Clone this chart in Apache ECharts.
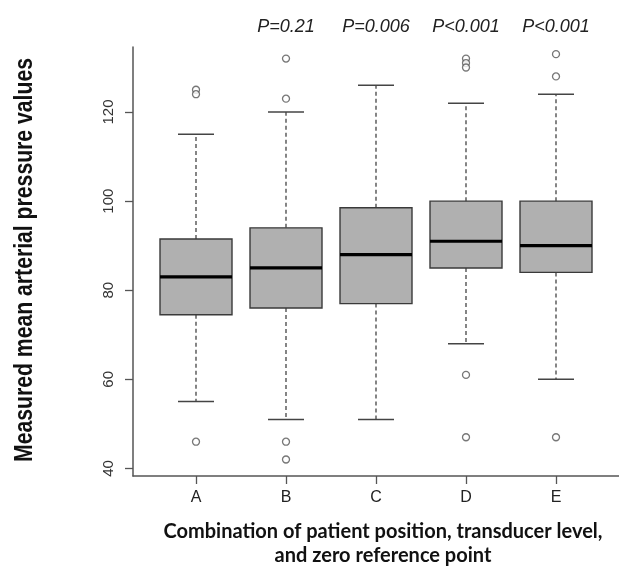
<!DOCTYPE html>
<html><head><meta charset="utf-8">
<script src="https://cdn.jsdelivr.net/npm/echarts@6/dist/echarts.min.js"></script>
<style>html,body{margin:0;padding:0;background:#fff}#c{width:619px;height:575px}</style>
</head><body><div id="c"></div>
<script>
var categories = ['A', 'B', 'C', 'D', 'E'];
var lowerWhisker = [55, 51, 51, 68, 60];
var q1 = [74.5, 76, 77, 85, 84];
var median = [83, 85, 88, 91, 90];
var q3 = [91.5, 94, 98.5, 100, 100];
var upperWhisker = [115, 120, 126, 122, 124];
var outliers = [[125, 124, 46], [132, 123, 46, 42], [], [132, 131, 130, 61, 47], [133, 128, 47]];
var pLabels = ['', 'P=0.21', 'P=0.006', 'P<0.001', 'P<0.001'];
var yTicks = [40, 60, 80, 100, 120];
var yTitle = 'Measured mean arterial pressure values';

var boxData = categories.map(function (c, i) {
  return [i + 1, lowerWhisker[i], q1[i], median[i], q3[i], upperWhisker[i]];
});
var outlierData = [];
outliers.forEach(function (arr, i) { arr.forEach(function (v) { outlierData.push([i + 1, v]); }); });
var catPos = categories.map(function (c, i) { return i + 1; });
var pPos = [];
pLabels.forEach(function (p, i) { if (p) pPos.push(i + 1); });

var arial = '"Liberation Sans", Arial, sans-serif';
var chart = echarts.init(document.getElementById('c'));
chart.setOption({
  animation: false,
  grid: { left: 133, top: 47, width: 490, bottom: 99 },
  graphic: [{
    type: 'text', x: 25, y: 260, rotation: Math.PI / 2, scaleX: 0.815,
    style: { text: yTitle, font: 'bold 26px "Liberation Sans", Arial, sans-serif', fill: '#111',
      align: 'center', verticalAlign: 'middle' }
  }],
  xAxis: [{
    type: 'value', min: 0.3, max: 5.7, position: 'bottom',
    splitLine: { show: false },
    axisLine: { show: true, lineStyle: { color: '#555', width: 1.5 } },
    axisTick: { show: true, length: 8, customValues: catPos, lineStyle: { color: '#555', width: 1.3 } },
    axisLabel: { customValues: catPos, margin: 14, fontFamily: arial, fontSize: 16, color: '#222',
      formatter: function (v) { return categories[Math.round(v) - 1]; } },
    name: 'Combination of patient position, transducer level,\nand zero reference point',
    nameLocation: 'middle', nameGap: 44,
    nameTextStyle: { fontFamily: 'Lato, "Open Sans", sans-serif', fontWeight: 'bold', fontSize: 20, lineHeight: 24, color: '#111', padding: [0, 0, 0, 14] }
  }, {
    type: 'value', min: 0.3, max: 5.7, position: 'top',
    splitLine: { show: false },
    axisLine: { show: false }, axisTick: { show: false },
    axisLabel: { customValues: pPos, margin: 11, fontFamily: arial, fontSize: 18, fontStyle: 'italic', color: '#222',
      formatter: function (v) { return pLabels[Math.round(v) - 1]; } }
  }],
  yAxis: {
    type: 'value', min: 38.3, max: 134.6,
    splitLine: { show: false },
    axisLine: { show: true, lineStyle: { color: '#555', width: 1.5 } },
    axisTick: { show: true, length: 8, customValues: yTicks, lineStyle: { color: '#555', width: 1.3 } },
    axisLabel: { customValues: yTicks, rotate: 90, margin: 17, fontFamily: arial, fontSize: 15, color: '#333' }
  },
  series: [{
    type: 'custom',
    xAxisIndex: 0, yAxisIndex: 0,
    data: boxData,
    renderItem: function (params, api) {
      var x = api.value(0), lw = api.value(1), a = api.value(2), m = api.value(3), b = api.value(4), uw = api.value(5);
      var tl = api.coord([x - 0.4, b]), br = api.coord([x + 0.4, a]);
      var mL = api.coord([x - 0.4, m]), mR = api.coord([x + 0.4, m]);
      var cQ1 = api.coord([x, a]), cQ3 = api.coord([x, b]);
      var cLw = api.coord([x, lw]), cUw = api.coord([x, uw]);
      var capL1 = api.coord([x - 0.2, lw]), capR1 = api.coord([x + 0.2, lw]);
      var capL2 = api.coord([x - 0.2, uw]), capR2 = api.coord([x + 0.2, uw]);
      var dash = { stroke: '#444', lineWidth: 1.3, lineDash: [4, 3] };
      var solid = { stroke: '#444', lineWidth: 1.5 };
      return { type: 'group', children: [
        { type: 'line', shape: { x1: cQ1[0], y1: cQ1[1], x2: cLw[0], y2: cLw[1] }, style: dash },
        { type: 'line', shape: { x1: cQ3[0], y1: cQ3[1], x2: cUw[0], y2: cUw[1] }, style: dash },
        { type: 'line', shape: { x1: capL1[0], y1: capL1[1], x2: capR1[0], y2: capR1[1] }, style: solid },
        { type: 'line', shape: { x1: capL2[0], y1: capL2[1], x2: capR2[0], y2: capR2[1] }, style: solid },
        { type: 'rect', shape: { x: tl[0], y: tl[1], width: br[0] - tl[0], height: br[1] - tl[1] },
          style: { fill: '#b0b0b0', stroke: '#3a3a3a', lineWidth: 1.4 } },
        { type: 'line', shape: { x1: mL[0], y1: mL[1], x2: mR[0], y2: mR[1] }, style: { stroke: '#000', lineWidth: 3.2 } }
      ] };
    }
  }, {
    type: 'scatter',
    xAxisIndex: 0, yAxisIndex: 0,
    data: outlierData,
    symbol: 'circle', symbolSize: 7,
    itemStyle: { color: '#fff', borderColor: '#555', borderWidth: 1.3 }
  }]
});
</script></body></html>
